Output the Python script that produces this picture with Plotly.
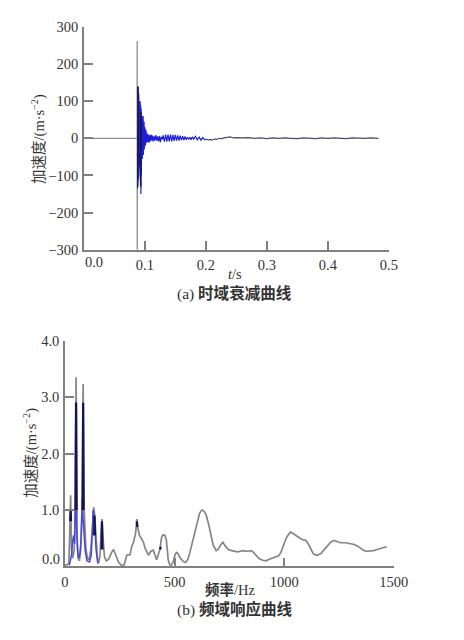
import plotly.graph_objects as go

# ---------------- (a) time-domain decay ----------------
t_base = [0.0, 0.0874, 0.0875, 0.0876, 0.0878]
a_base = [0, 0, 262, -300, 0]

t_blue = [0.0880, 0.0884, 0.0888, 0.0892, 0.0896, 0.0900, 0.0904, 0.0908, 0.0912, 0.0916,
          0.0920, 0.0924, 0.0928, 0.0932, 0.0936, 0.0940, 0.0944, 0.0948, 0.0952, 0.0956,
          0.0960, 0.0964, 0.0968, 0.0972, 0.0976, 0.0980, 0.0984, 0.0988, 0.0992, 0.0996,
          0.1000, 0.1005, 0.1010, 0.1015, 0.1020, 0.1025, 0.1030, 0.1040, 0.1050, 0.1060,
          0.1070, 0.1080, 0.1090, 0.1100, 0.1110, 0.1120, 0.1135, 0.1150, 0.1165, 0.1180,
          0.1195, 0.1210, 0.1225, 0.1240, 0.1255, 0.1270, 0.1285, 0.1300, 0.1320, 0.1340,
          0.1360, 0.1380, 0.1400, 0.1420, 0.1440, 0.1460, 0.1480, 0.1500, 0.1520, 0.1540,
          0.1560, 0.1580, 0.1600, 0.1620, 0.1640, 0.1660, 0.1680, 0.1700, 0.1720, 0.1740,
          0.1760, 0.1780, 0.1800, 0.1830, 0.1860, 0.1890, 0.1920, 0.1950, 0.1980, 0.2010]
a_blue = [-40, 60, -130, 140, -110, 120, -90, 70, -60, 55,
          -70, 100, -120, 90, -150, 80, -100, 60, -70, 45,
          -55, 50, -40, 60, -45, 40, -35, 45, -30, 30,
          -28, 25, -20, 22, -15, 14, -12, 12, -10, 10,
          -12, 8, -8, 10, -6, 8, -8, 6, -7, 9,
          -6, 5, -8, 6, -10, 4, -3, 8, -9, 10,
          -9, 10, -8, 10, -8, 9, -7, 9, -6, 8,
          -6, 7, -5, 6, -5, 5, -4, 3, -2, 3,
          -4, 4, -2, 5, -4, 3, -5, 2, -4, -2]

t_dark = [0.0882, 0.0886, 0.0890, 0.0894, 0.0898, 0.0935, 0.0937, 0.0941]
a_dark = [-135, 138, -60, 50, -20, -130, 70, -30]

t_tail = [0.2010, 0.2040, 0.2070, 0.2100, 0.2140, 0.2180, 0.2220, 0.2260, 0.2300, 0.2350,
          0.2400, 0.2450, 0.2500, 0.2600, 0.2700, 0.2800, 0.2900, 0.3000, 0.3100, 0.3200,
          0.3300, 0.3400, 0.3500, 0.3600, 0.3700, 0.3800, 0.3900, 0.4000, 0.4100, 0.4200,
          0.4300, 0.4400, 0.4500, 0.4600, 0.4700, 0.4830]
a_tail = [-2, -5, -3, -5, -2, -3, 0, -1, 1, 2,
          4, 1, 2, 1, 2, 0, 1, -1, 1, 0,
          1, 0, -1, 1, 0, -1, 1, 0, 1, 0,
          -1, 1, 0, 0, 1, 0]

t_ticks = [0.1, 0.2, 0.3, 0.4, 0.5]
t_tick_text = ["0.1", "0.2", "0.3", "0.4", "0.5"]
acc_ticks = [-300, -200, -100, 0, 100, 200, 300]
acc_tick_text = ["\u2212300", "\u2212200", "\u2212100", "0", "100", "200", "300"]

# ---------------- (b) frequency response ----------------
f_grey = [0, 10, 18, 22, 26, 30, 36, 42, 47, 51, 55, 60, 66, 72, 78, 83, 88, 95, 102, 110,
          118, 126, 131, 136, 142, 148, 154, 160, 165, 169, 174, 180, 188, 198, 213, 222,
          232, 244, 260, 270, 282, 297, 305, 313, 322, 328, 334, 340, 348, 358, 366, 381,
          392, 403, 418, 433, 441, 448, 456, 462, 467, 471, 478, 486, 494, 501, 509, 516,
          524, 539, 550, 560, 570, 581, 592, 603, 614, 622, 628, 638, 645, 656, 668, 676,
          690, 700, 710, 720, 732, 745, 760, 775, 788, 800, 811, 830, 849, 860, 871, 885,
          902, 917, 932, 948, 962, 975, 985, 995, 1008, 1020, 1030, 1042, 1053, 1065, 1076,
          1088, 1099, 1110, 1121, 1132, 1144, 1152, 1167, 1178, 1189, 1200, 1212, 1226, 1240,
          1257, 1280, 1300, 1320, 1335, 1350, 1365, 1378, 1393, 1408, 1423, 1438, 1453, 1468]
a_grey = [0.02, 0.03, 0.05, 0.6, 1.26, 0.3, 0.15, 0.3, 0.9, 3.35, 0.6, 0.15, 0.1, 0.3, 1.0, 3.23, 1.0, 0.35, 0.15, 0.12,
          0.3, 0.7, 1.05, 0.9, 0.5, 0.15, 0.06, 0.2, 0.6, 0.84, 0.5, 0.18, 0.1, 0.12, 0.25, 0.3,
          0.2, 0.08, 0.01, 0.03, 0.2, 0.21, 0.36, 0.43, 0.58, 0.84, 0.65, 0.55, 0.5, 0.43, 0.32, 0.2,
          0.27, 0.29, 0.12, 0.3, 0.52, 0.56, 0.55, 0.48, 0.3, 0.12, 0.03, 0.03, 0.08, 0.2, 0.25, 0.23,
          0.16, 0.09, 0.07, 0.12, 0.25, 0.42, 0.61, 0.8, 0.94, 0.99, 1.0, 0.96, 0.9, 0.74, 0.55, 0.38,
          0.28, 0.31, 0.38, 0.43, 0.36, 0.3, 0.28, 0.27, 0.26, 0.27, 0.28, 0.27, 0.28, 0.25, 0.2, 0.14,
          0.11, 0.1, 0.13, 0.15, 0.17, 0.19, 0.25, 0.35, 0.49, 0.57, 0.61, 0.58, 0.55, 0.51, 0.49,
          0.47, 0.46, 0.4, 0.31, 0.23, 0.2, 0.2, 0.23, 0.28, 0.33, 0.38, 0.43, 0.46, 0.44,
          0.42, 0.42, 0.41, 0.39, 0.36, 0.32, 0.28, 0.27, 0.27, 0.28, 0.3, 0.32, 0.34, 0.35]

f_blue = [20, 25, 30, 35, 40, 44, 47, 49, 51, 53, 57, 62, 68, 74, 79, 82, 86, 92, 100,
          112, 120, 126, 129, 131, 134, 138, 142, 150]
a_blue_f = [0.02, 0.1, 0.2, 0.45, 0.55, 0.4, 1.1, 2.9, 2.9, 0.8, 0.3, 0.15, 0.2, 0.5, 1.2, 0.9, 0.6, 0.3, 0.1,
            0.08, 0.2, 0.6, 1.0, 0.95, 0.9, 0.6, 0.3, 0.05]

f_dark = [24, 26, 28, None, 49, 51, 53, None, 81, 83, 85, None, 133, 135, 137, None, 167, 169, 171,
          None, 328, 330, None, 434, 437]
a_dark_f = [0.8, 1.0, 0.8, None, 1.0, 2.9, 1.0, None, 1.0, 2.9, 1.0, None, 0.55, 0.9, 0.55, None, 0.3, 0.8, 0.3,
            None, 0.8, 0.7, None, 0.3, 0.35]

f_ticks = [0, 500, 1000, 1500]
f_tick_text = ["0", "500", "1000", "1500"]
amp_ticks = [1, 2, 3, 4]
amp_tick_text = ["1.0", "2.0", "3.0", "4.0"]

# page keeps the browser's 8px body margin; figure sized so page == window.
# The captured picture appears slightly shrunk (about 0.966) with a small top offset,
# so target positions are pre-compensated.
OFF = 8
W, H = 448, 624
K = 0.966
AY = 10.5


def px(S):
    return (S / K - OFF) / W


def py(S):
    return 1 - ((S - AY) / K - OFF) / H


def fs(v):
    return v / K


FONT = "Liberation Serif, Noto Serif CJK SC, Noto Sans CJK SC, serif"
CJK = "Liberation Serif, Noto Sans CJK SC, serif"
AX = "#808080"
TXT = "#333333"

fig = go.Figure()
fig.add_trace(go.Scatter(x=t_base, y=a_base, mode="lines", line=dict(color="#8c8c8c", width=1.3),
                         xaxis="x", yaxis="y", showlegend=False))
fig.add_trace(go.Scatter(x=t_blue, y=a_blue, mode="lines", line=dict(color="#1f1fd8", width=1.2),
                         xaxis="x", yaxis="y", showlegend=False))
fig.add_trace(go.Scatter(x=t_dark, y=a_dark, mode="lines", line=dict(color="#141440", width=1),
                         xaxis="x", yaxis="y", showlegend=False))
fig.add_trace(go.Scatter(x=t_tail, y=a_tail, mode="lines", line=dict(color="#4a4a6a", width=1.2),
                         xaxis="x", yaxis="y", showlegend=False))

fig.add_trace(go.Scatter(x=f_grey, y=a_grey, mode="lines", line=dict(color="#858585", width=1.7),
                         xaxis="x2", yaxis="y2", showlegend=False))
fig.add_trace(go.Scatter(x=f_blue, y=a_blue_f, mode="lines", line=dict(color="#4848d8", width=1.5),
                         xaxis="x2", yaxis="y2", showlegend=False))
fig.add_trace(go.Scatter(x=f_dark, y=a_dark_f, mode="lines", line=dict(color="#141450", width=2.2),
                         xaxis="x2", yaxis="y2", showlegend=False, connectgaps=False))

axis_common = dict(showline=True, linecolor=AX, linewidth=1.5, ticks="inside", ticklen=9,
                   tickwidth=1.5, tickcolor=AX, showgrid=False, zeroline=False,
                   tickfont=dict(family=FONT, size=fs(14), color=TXT), ticklabelstandoff=1)

fig.update_layout(
    width=W, height=H, margin=dict(l=0, r=0, t=0, b=0),
    paper_bgcolor="white", plot_bgcolor="white", showlegend=False,
    xaxis=dict(domain=[px(80), px(387)], range=[0, 0.5], anchor="y",
               tickvals=t_ticks, ticktext=t_tick_text, **axis_common),
    yaxis=dict(domain=[py(250), py(29)], range=[-300, 300], anchor="x",
               tickvals=acc_ticks, ticktext=acc_tick_text, **axis_common),
    xaxis2=dict(domain=[px(61), px(392)], range=[0, 1500], anchor="y2",
                tickvals=f_ticks, ticktext=f_tick_text, **axis_common),
    yaxis2=dict(domain=[py(564), py(340)], range=[0, 4], anchor="x2",
                tickvals=amp_ticks, ticktext=amp_tick_text, **axis_common),
)

ann = [
    dict(text="0.0", x=0, y=-300, xref="x", yref="y", xanchor="center", yanchor="top",
         xshift=10, yshift=-2, font=dict(family=FONT, size=fs(14), color=TXT)),
    dict(text="0.0", x=0, y=0, xref="x2", yref="y2", xanchor="right", yanchor="middle",
         xshift=-3, yshift=7, font=dict(family=FONT, size=fs(14), color=TXT)),
    dict(text="加速度/(m·s<sup>\u22122</sup>)", x=px(35), y=py(140), textangle=-90,
         font=dict(family=CJK, size=fs(14), color=TXT)),
    dict(text="<i>t</i>/s", x=px(232), y=py(274), font=dict(family=FONT, size=fs(14), color=TXT)),
    dict(text="(a) <b>时域衰减曲线</b>", x=px(232), y=py(293), font=dict(family=CJK, size=fs(15), color=TXT)),
    dict(text="加速度/(m·s<sup>\u22122</sup>)", x=px(26), y=py(451), textangle=-90,
         font=dict(family=CJK, size=fs(14), color=TXT)),
    dict(text="<b>频率</b>/Hz", x=px(227), y=py(587), font=dict(family=CJK, size=fs(14), color=TXT)),
    dict(text="(b) <b>频域响应曲线</b>", x=px(232), y=py(607), font=dict(family=CJK, size=fs(15), color=TXT)),
]
for a in ann:
    a.setdefault("xref", "paper")
    a.setdefault("yref", "paper")
    a.setdefault("xanchor", "center")
    a.setdefault("yanchor", "middle")
    a["showarrow"] = False
    fig.add_annotation(**a)

fig.write_html("out.html", config={"displayModeBar": False})
